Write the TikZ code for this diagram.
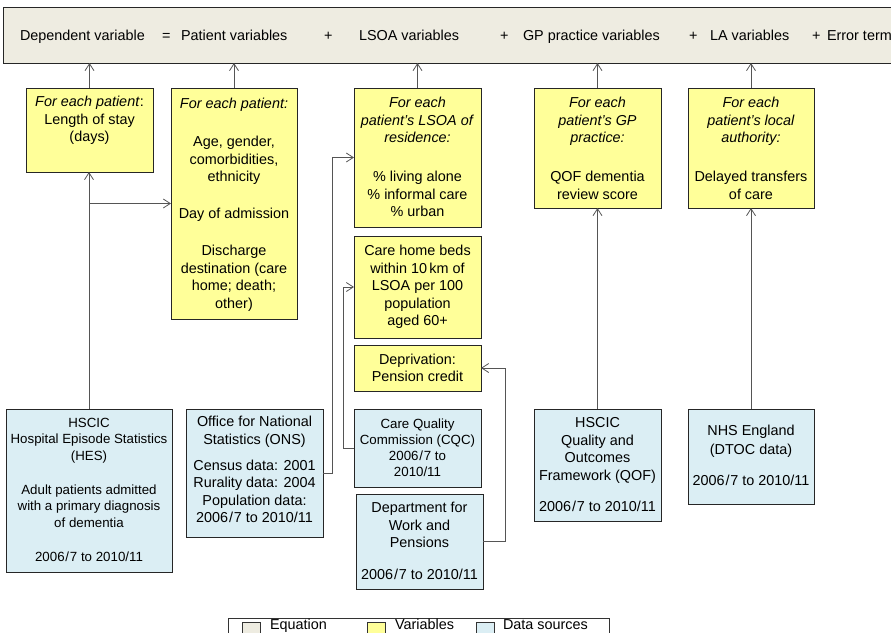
\documentclass[tikz,border=0pt]{standalone}
\usepackage{fontspec}
\setmainfont{Liberation Sans}
\usetikzlibrary{arrows.meta,shadows}
\definecolor{eqbeige}{HTML}{EEECE1}
\definecolor{varyel}{HTML}{FFFF99}
\definecolor{srcblue}{HTML}{DBEEF4}
\definecolor{linegray}{HTML}{555555}
\newcommand{\fsA}{\fontsize{14.4}{17.5}\selectfont}
\newcommand{\fsB}{\fontsize{13.3}{16.5}\selectfont}
\newcommand{\fsC}{\fontsize{13.3}{16}\selectfont}
\newcommand{\yra}{2006\kern0.8pt/\kern0.8pt7}
\tikzset{
  box/.style={draw=black!85, line width=0.8pt, inner sep=0pt, outer sep=0pt,
    drop shadow={shadow xshift=1pt, shadow yshift=-1pt, fill=black!60, opacity=0.5}},
  eqbox/.style={box, fill=eqbeige},
  varbox/.style={box, fill=varyel},
  srcbox/.style={box, fill=srcblue},
  txt/.style={inner sep=0pt, outer sep=0pt, align=center, font=\fsA},
  eqtxt/.style={inner sep=0pt, outer sep=0pt, anchor=base west, font=\fsA},
  arr/.style={draw=linegray, line width=0.8pt, -{Straight Barb[length=7pt,width=9pt]}},
  conn/.style={draw=linegray, line width=0.8pt},
  swatch/.style={draw=black!80, line width=0.6pt, minimum width=18pt, minimum height=18pt, inner sep=0pt},
}
\begin{document}
\begin{tikzpicture}[x=1pt,y=-1pt]
\useasboundingbox (0,0) rectangle (891,632);

% equation bar
\node[eqbox, minimum width=897pt, minimum height=56pt] (bar) at (451.5,35) {};
\node[eqtxt] (e1) at (20,40) {Dependent variable};
\node[eqtxt] (e2) at (162,40) {=};
\node[eqtxt] (e3) at (181,40) {Patient variables};
\node[eqtxt] (e4) at (324,40) {+};
\node[eqtxt] (e5) at (359,40) {LSOA variables};
\node[eqtxt] (e6) at (500,40) {+};
\node[eqtxt] (e7) at (523,40) {GP practice variables};
\node[eqtxt] (e8) at (689,40) {+};
\node[eqtxt] (e9) at (710,40) {LA variables};
\node[eqtxt] (e10) at (812,40) {+};
\node[eqtxt] (e11) at (827,40) {Error term};

% variable boxes
\node[varbox, minimum width=127pt, minimum height=84pt] (y1) at (89.5,130) {};
\node[txt, anchor=north] (y1t) at ([yshift=-8.5pt]y1.north)
  {\textit{For each patient}:\\ Length of stay\\ (days)};

\node[varbox, minimum width=126pt, minimum height=231pt] (y2) at (234,203.5) {};
\node[txt, anchor=north] (y2t) at ([yshift=-10.5pt]y2.north)
  {\textit{For each patient:}\\[20.5pt] Age, gender,\\ comorbidities,\\ ethnicity\\[19.5pt]
   Day of admission\\[19.5pt] Discharge\\ destination (care\\ home; death;\\ other)};

\node[varbox, minimum width=127pt, minimum height=139pt] (y3) at (417.5,157.5) {};
\node[txt, anchor=north] (y3t) at ([yshift=-9.5pt]y3.north)
  {\textit{For each}\\ \textit{patient’s LSOA of}\\ \textit{residence:}\\[21.5pt]
   \% living alone\\ \% informal care\\ \% urban};

\node[varbox, minimum width=127pt, minimum height=102pt] (y4) at (417.5,287) {};
\node[txt] (y4t) at (y4.center)
  {Care home beds\\ within 10\,km of\\ LSOA per 100\\ population\\ aged 60+};

\node[varbox, minimum width=127pt, minimum height=46pt] (y5) at (417.5,368) {};
\node[txt] (y5t) at (y5.center) {Deprivation:\\ Pension credit};

\node[varbox, minimum width=127pt, minimum height=120pt] (y6) at (597.5,148) {};
\node[txt, anchor=north] (y6t) at ([yshift=-9.5pt]y6.north)
  {\textit{For each}\\ \textit{patient’s GP}\\ \textit{practice:}\\[21.5pt]
   QOF dementia\\ review score};

\node[varbox, minimum width=126pt, minimum height=120pt] (y7) at (751,148) {};
\node[txt, anchor=north] (y7t) at ([yshift=-9.5pt]y7.north)
  {\textit{For each}\\ \textit{patient’s local}\\ \textit{authority:}\\[21.5pt]
   Delayed transfers\\ of care};

% data source boxes
\node[srcbox, minimum width=166pt, minimum height=163pt] (d1) at (89,490.5) {};
\node[txt, font=\fsB, anchor=north] (d1t) at ([yshift=-9pt]d1.north)
  {HSCIC\\ Hospital Episode Statistics\\ (HES)\\[17.5pt] Adult patients admitted\\
   with a primary diagnosis\\ of dementia\\[17.5pt] \yra{} to 2010/11};

\node[srcbox, minimum width=137pt, minimum height=128pt] (d2) at (254.5,473) {};
\node[txt, anchor=north] (d2t) at ([yshift=-7.5pt]d2.north)
  {Office for National\\ Statistics (ONS)\\[8.5pt] Census data: 2001\\ Rurality data: 2004\\
   Population data:\\ \yra{} to 2010/11};

\node[srcbox, minimum width=127pt, minimum height=78pt] (d3) at (417.5,448) {};
\node[txt, font=\fsC] (d3t) at (d3.center)
  {Care Quality\\ Commission (CQC)\\ \yra{} to\\ 2010/11};

\node[srcbox, minimum width=127pt, minimum height=95pt] (d4) at (419.5,541.5) {};
\node[txt, anchor=north] (d4t) at ([yshift=-8.5pt]d4.north)
  {Department for\\ Work and\\ Pensions\\[14.5pt] \yra{} to 2010/11};

\node[srcbox, minimum width=127pt, minimum height=112pt] (d5) at (597.5,465) {};
\node[txt, anchor=north] (d5t) at ([yshift=-8.5pt]d5.north)
  {HSCIC\\ Quality and\\ Outcomes\\ Framework (QOF)\\[13.5pt] \yra{} to 2010/11};

\node[srcbox, minimum width=126pt, minimum height=95pt] (d6) at (751,456.5) {};
\node[txt, anchor=north] (d6t) at ([yshift=-16.5pt]d6.north)
  {NHS England\\[1.5pt] (DTOC data)\\[13.5pt] \yra{} to 2010/11};

% connectors to equation bar
\foreach \b in {y1,y2,y3,y6,y7}
  \draw[arr] (\b.north) -- (\b.north |- bar.south);

% source connectors
\draw[arr] (d1.north) -- (d1.north |- y1.south);
\draw[arr] (d1.north |- y2.west) -- (y2.west);
\draw[arr] (d2.east) -- ++(9,0) |- (y3.west);
\draw[arr] (d3.west) -- ++(-11,0) |- (y4.west);
\draw[arr] (d4.east) -- ++(22,0) |- (y5.east);
\draw[arr] (d5.north) -- (y6.south);
\draw[arr] (d6.north) -- (y7.south);

% legend
\node[draw=black!80, line width=0.6pt, fill=white, minimum width=381pt, minimum height=27pt, inner sep=0pt] (leg) at (418.5,631.5) {};
\node[swatch, fill=eqbeige] (s1) at (251,631) {};
\node[swatch, fill=varyel] (s2) at (376,631) {};
\node[swatch, fill=srcblue] (s3) at (485,631) {};
\node[eqtxt] (l1) at (270,629) {Equation};
\node[eqtxt] (l2) at (395,629) {Variables};
\node[eqtxt] (l3) at (503,629) {Data sources};
\end{tikzpicture}
\end{document}
